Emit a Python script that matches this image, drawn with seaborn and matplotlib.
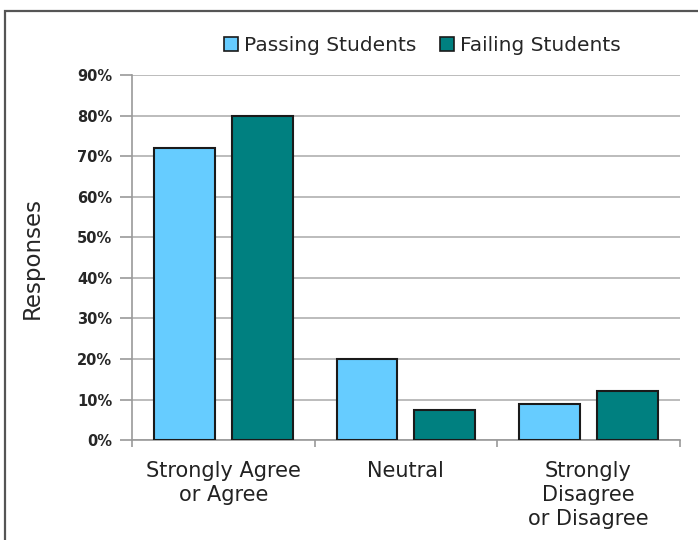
import pandas as pd
import seaborn as sns
import matplotlib.pyplot as plt
from matplotlib.patches import Rectangle
from matplotlib.ticker import FixedLocator, PercentFormatter

categories = ["Strongly Agree\nor Agree", "Neutral", "Strongly\nDisagree\nor Disagree"]
passing = [72, 20, 9]
failing = [80, 7.4, 12]
groups = ["Passing Students", "Failing Students"]
colors = ["#66CCFF", "#008080"]

df = pd.DataFrame({
    "category": categories * 2,
    "group": [groups[0]] * 3 + [groups[1]] * 3,
    "value": passing + failing,
})

sns.set_style("white")
plt.rcParams['font.family'] = ['DejaVu Sans']

fig = plt.figure(figsize=(6.98, 5.4), dpi=100)
ax = fig.add_axes([0.189, 0.185, 0.785, 0.676])

sns.barplot(data=df, x="category", y="value", hue="group", palette=colors,
            saturation=1, width=0.852, gap=0.218, edgecolor="#1a1a1a",
            linewidth=1.5, ax=ax, legend=False, zorder=3)

ax.set_ylim(0, 90)
ax.set_xlim(-0.5, 2.5)
ax.set_yticks(range(0, 91, 10))
ax.yaxis.set_major_formatter(PercentFormatter(decimals=0))
ax.yaxis.grid(True, color="#b0b0b0", linewidth=1.2, zorder=0)
ax.set_axisbelow(True)

# category labels, ticks at category boundaries
ax.tick_params(axis="x", which="major", length=0, labelsize=15, pad=15, colors="#222222")
for t in ax.get_xticklabels():
    t.set_linespacing(1.25)
ax.xaxis.set_minor_locator(FixedLocator([-0.5, 0.5, 1.5, 2.5]))
ax.tick_params(axis="x", which="minor", bottom=True, length=5, color="#999999", width=1.2)
ax.tick_params(axis="y", left=True, length=9, color="#999999", width=1.2,
               labelsize=10.5, pad=5)
for t in ax.get_yticklabels():
    t.set_fontweight("bold")

for s in ["top", "right"]:
    ax.spines[s].set_visible(False)
for s in ["left", "bottom"]:
    ax.spines[s].set_color("#999999")
    ax.spines[s].set_linewidth(1.2)

ax.set_xlabel("")
ax.set_ylabel("Responses", fontsize=16.5, labelpad=24)

handles = [Rectangle((0, 0), 1, 1, facecolor=c, edgecolor="#1a1a1a", linewidth=1.2) for c in colors]
fig.legend(handles, groups, loc="center", bbox_to_anchor=(0.605, 0.915), ncol=2,
           frameon=False, fontsize=14.5, handlelength=0.7, handleheight=0.7,
           handletextpad=0.3, columnspacing=1.2)

# outer border
fig.patches.append(Rectangle((0.007, -0.05), 1.1, 1.03, transform=fig.transFigure,
                             fill=False, edgecolor="#555555", linewidth=1.6))

fig.savefig("out.png", dpi=100)
